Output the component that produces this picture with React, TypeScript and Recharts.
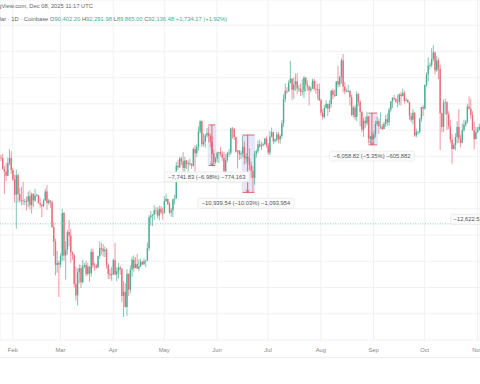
import React from "react";
import {
  ComposedChart,
  Bar,
  XAxis,
  YAxis,
  CartesianGrid,
  ReferenceLine,
  ReferenceArea,
  ReferenceDot,
} from "recharts";

// daily BTC/USD candles, Jan 25 .. Nov 2 2025, in thousands of USD
const opens = [
  104.8, 104.7, 102.6, 102.1, 101.3, 103.7, 104.7,
  // Feb
  102.4, 100.6, 97.7, 101.4, 97.8, 96.6, 96.6, 96.5, 96.5, 96.4,
  97.4, 95.7, 97.8, 96.6, 97.5, 97.6, 96.1, 95.8, 95.5, 96.6,
  98.3, 96.1, 96.6, 96.3, 91.5, 88.7, 84.3, 84.7,
  // Mar
  84.4, 86.0, 94.2, 86.1, 87.2, 90.6, 89.9, 86.7, 86.2, 80.7,
  78.5, 82.9, 83.7, 81.0, 84.0, 84.3, 82.6, 84.0, 82.7, 86.8,
  84.2, 84.1, 83.8, 86.0, 87.5, 87.4, 86.9, 87.2, 84.3, 82.6,
  82.4,
  // Apr
  82.5, 85.2, 82.5, 83.1, 83.8, 83.5, 78.4, 79.2, 76.3, 82.6,
  79.6, 83.4, 85.3, 83.7, 84.5, 83.6, 84.0, 84.9, 84.4, 85.0,
  85.1, 87.5, 93.4, 93.7, 93.9, 94.7, 94.6, 93.7, 95.0, 94.3,
  // May
  94.2, 96.5, 96.9, 95.9, 94.3, 94.7, 96.8, 97.0, 103.2, 102.9,
  104.6, 104.1, 102.8, 104.2, 103.5, 103.7, 103.5, 103.2, 106.4, 105.6,
  106.8, 109.7, 111.7, 107.3, 107.8, 109.0, 109.4, 108.9, 107.8, 105.6,
  103.9,
  // Jun
  104.6, 105.7, 105.8, 105.4, 104.7, 101.6, 104.3, 105.6, 105.7, 110.3,
  110.2, 108.7, 105.9, 106.1, 105.4, 105.6, 106.8, 104.6, 104.9, 104.6,
  103.3, 102.2, 100.9, 105.5, 106.0, 107.3, 106.9, 107.1, 107.3, 108.4,
  // Jul
  107.1, 105.7, 108.8, 109.6, 107.9, 108.2, 109.2, 108.2, 108.9, 111.3,
  115.9, 117.5, 117.4, 119.0, 119.8, 117.7, 118.7, 119.3, 117.9, 117.9,
  117.3, 117.4, 120.0, 118.7, 118.3, 117.6, 117.9, 119.4, 117.9, 117.8,
  117.8,
  // Aug
  115.7, 113.3, 112.5, 114.2, 115.0, 114.1, 115.0, 117.5, 116.7, 116.5,
  119.3, 118.7, 120.1, 123.3, 118.3, 117.4, 117.4, 117.5, 116.3, 112.9,
  114.3, 112.5, 116.9, 115.4, 113.5, 110.1, 111.8, 111.3, 112.6, 108.4,
  108.8,
  // Sep
  108.3, 109.2, 111.2, 111.7, 110.7, 110.7, 110.2, 111.2, 112.1, 111.5,
  113.9, 115.5, 116.1, 115.9, 115.4, 115.4, 116.8, 116.5, 117.1, 115.6,
  115.7, 115.3, 112.7, 112.0, 113.3, 109.0, 109.7, 109.7, 112.1, 114.4,
  // Oct
  114.1, 118.6, 120.6, 122.3, 122.4, 123.5, 124.8, 121.4, 123.3, 121.7,
  113.2, 110.6, 115.2, 115.3, 113.0, 110.7, 108.2, 106.4, 107.2, 108.7,
  110.6, 108.4, 107.6, 110.0, 111.0, 111.6, 114.5, 114.1, 112.9, 110.0,
  108.3,
  // Nov
  109.6, 110.1,
];

const highs = [
  105.3, 105.5, 103.2, 103.8, 104.8, 106.4, 106.0,
  102.8, 101.5, 102.5, 101.7, 99.0, 99.2, 100.1, 96.9, 97.3, 98.3,
  98.5, 98.1, 98.0, 98.8, 97.9, 97.7, 97.0, 96.0, 96.9, 98.8,
  99.5, 96.9, 96.6, 96.5, 92.5, 89.3, 87.0, 85.1,
  86.5, 95.0, 94.4, 88.9, 91.0, 92.8, 91.2, 86.9, 86.5, 84.0,
  83.6, 84.4, 84.3, 85.3, 84.7, 85.1, 84.7, 84.0, 87.4, 87.4,
  84.7, 84.5, 86.1, 88.8, 88.5, 88.3, 87.8, 87.5, 84.6, 83.5,
  83.9,
  85.5, 88.5, 83.9, 84.7, 84.2, 83.8, 81.2, 80.8, 83.5, 82.7,
  84.2, 85.9, 86.1, 85.8, 86.4, 85.4, 85.5, 85.1, 85.6, 85.3,
  88.6, 93.8, 94.6, 94.0, 95.7, 95.3, 95.3, 95.6, 95.5, 95.2,
  97.4, 97.9, 96.9, 96.3, 95.2, 96.9, 97.7, 103.9, 104.3, 104.9,
  104.9, 105.8, 104.9, 104.3, 104.2, 104.6, 103.7, 106.7, 107.1, 107.3,
  110.7, 111.9, 111.8, 109.4, 109.3, 110.4, 110.7, 109.3, 108.9, 106.3,
  104.9,
  105.9, 105.9, 106.8, 106.0, 105.9, 105.4, 105.9, 106.4, 110.5, 110.6,
  110.4, 108.8, 106.2, 106.2, 106.1, 108.9, 107.8, 105.6, 105.0, 106.5,
  104.0, 103.1, 106.0, 106.3, 108.0, 108.2, 107.8, 107.6, 108.5, 108.8,
  107.5, 109.8, 110.5, 109.7, 108.4, 109.7, 109.7, 109.2, 111.9, 116.8,
  118.9, 118.2, 119.5, 123.2, 119.9, 120.0, 120.8, 120.9, 118.6, 118.9,
  119.7, 120.3, 120.1, 119.5, 118.5, 118.3, 119.8, 119.8, 119.3, 118.8,
  118.9,
  116.0, 114.0, 114.8, 115.7, 115.1, 115.7, 117.7, 117.9, 117.7, 119.3,
  122.3, 120.3, 123.7, 124.5, 119.2, 117.9, 118.6, 117.6, 116.8, 114.6,
  114.8, 117.4, 117.0, 115.7, 113.6, 112.4, 112.6, 113.5, 112.7, 108.9,
  109.5,
  109.9, 111.8, 112.6, 112.2, 113.4, 111.2, 111.6, 112.9, 113.2, 114.3,
  115.5, 116.3, 116.7, 116.1, 116.8, 117.0, 117.3, 117.9, 117.5, 116.2,
  115.9, 115.4, 113.3, 114.0, 113.5, 110.3, 109.8, 112.4, 114.4, 114.8,
  118.7, 121.0, 123.9, 122.9, 125.6, 126.2, 125.0, 124.2, 123.8, 122.5,
  113.4, 115.8, 116.0, 115.5, 113.6, 111.9, 109.2, 107.5, 109.4, 111.7,
  114.0, 109.1, 111.3, 112.0, 111.9, 115.0, 116.4, 116.0, 113.6, 111.6,
  110.6,
  110.6, 111.2,
];

const lows = [
  104.1, 102.5, 97.8, 100.3, 101.3, 103.3, 101.6,
  100.3, 96.2, 91.2, 96.2, 96.2, 95.7, 95.7, 95.7, 94.7, 95.3,
  94.9, 94.1, 95.3, 96.3, 97.3, 96.0, 95.2, 93.4, 95.3, 96.5,
  94.8, 95.8, 95.2, 91.4, 86.0, 82.3, 82.8, 78.2,
  83.8, 85.1, 85.1, 81.5, 86.3, 87.8, 84.7, 85.3, 80.0, 77.5,
  76.6, 80.8, 79.9, 80.8, 83.7, 82.1, 82.3, 81.1, 82.1, 83.7,
  83.2, 83.6, 83.8, 85.5, 86.3, 85.9, 85.8, 83.6, 81.6, 81.6,
  81.3,
  82.4, 82.3, 81.2, 81.7, 82.4, 77.2, 74.4, 76.2, 74.6, 78.4,
  78.9, 82.0, 83.0, 83.7, 83.6, 83.1, 83.9, 84.3, 84.4, 83.9,
  85.1, 87.0, 91.8, 91.7, 92.9, 93.9, 93.2, 92.8, 93.9, 92.9,
  94.1, 96.3, 95.7, 94.0, 93.5, 93.4, 95.8, 96.9, 102.4, 102.8,
  103.4, 100.8, 101.5, 102.6, 101.4, 103.2, 102.6, 103.1, 102.0, 104.9,
  106.1, 109.3, 106.8, 106.9, 106.6, 108.6, 107.6, 106.7, 105.3, 103.1,
  103.6,
  103.9, 103.7, 105.0, 104.1, 100.4, 101.1, 103.9, 104.9, 105.3, 108.4,
  108.1, 105.7, 102.7, 104.3, 104.5, 104.9, 103.4, 103.6, 103.9, 102.4,
  100.9, 98.2, 99.6, 104.7, 105.6, 106.6, 106.2, 106.9, 107.2, 106.7,
  105.3, 105.2, 108.6, 107.3, 107.6, 107.8, 107.5, 107.4, 108.4, 110.6,
  115.3, 116.9, 117.3, 118.9, 115.7, 116.0, 117.5, 116.9, 117.3, 116.5,
  116.6, 116.1, 117.3, 117.5, 114.7, 117.2, 117.8, 117.5, 116.9, 115.8,
  115.5,
  112.7, 112.0, 112.2, 114.1, 112.7, 113.4, 114.3, 115.9, 116.3, 116.5,
  118.1, 118.2, 118.9, 117.2, 116.8, 117.2, 117.2, 114.7, 112.7, 112.4,
  112.0, 111.7, 114.6, 110.7, 109.6, 108.7, 110.4, 110.9, 107.5, 107.5,
  108.1,
  107.3, 108.6, 110.8, 109.3, 110.2, 110.0, 110.2, 110.6, 110.8, 110.9,
  113.4, 114.2, 115.7, 115.2, 114.4, 114.8, 114.7, 116.4, 115.1, 115.5,
  115.2, 111.9, 111.5, 111.1, 108.7, 108.6, 109.1, 109.3, 111.6, 112.7,
  113.9, 118.3, 119.3, 121.6, 122.0, 123.1, 120.6, 121.1, 119.7, 106.2,
  109.6, 109.7, 113.0, 110.0, 110.2, 107.5, 103.5, 106.3, 106.1, 107.5,
  107.5, 106.7, 107.5, 109.7, 110.6, 111.3, 113.9, 112.2, 109.9, 106.3,
  108.2,
  109.5, 109.9,
];

const closes = [
  104.7, 102.6, 102.1, 101.3, 103.7, 104.7, 102.4,
  100.6, 97.7, 101.4, 97.8, 96.6, 96.6, 96.5, 96.5, 96.4, 97.4,
  95.7, 97.8, 96.6, 97.5, 97.6, 96.1, 95.8, 95.5, 96.6, 98.3,
  96.1, 96.6, 96.3, 91.5, 88.7, 84.3, 84.7, 84.4,
  86.0, 94.2, 86.1, 87.2, 90.6, 89.9, 86.7, 86.2, 80.7, 78.5,
  82.9, 83.7, 81.0, 84.0, 84.3, 82.6, 84.0, 82.7, 86.8, 84.2,
  84.1, 83.8, 86.0, 87.5, 87.4, 86.9, 87.2, 84.3, 82.6, 82.4,
  82.5,
  85.2, 82.5, 83.1, 83.8, 83.5, 78.4, 79.2, 76.3, 82.6, 79.6,
  83.4, 85.3, 83.7, 84.5, 83.6, 84.0, 84.9, 84.4, 85.0, 85.1,
  87.5, 93.4, 93.7, 93.9, 94.7, 94.6, 93.7, 95.0, 94.3, 94.2,
  96.5, 96.9, 95.9, 94.3, 94.7, 96.8, 97.0, 103.2, 102.9, 104.6,
  104.1, 102.8, 104.2, 103.5, 103.7, 103.5, 103.2, 106.4, 105.6, 106.8,
  109.7, 111.7, 107.3, 107.8, 109.0, 109.4, 108.9, 107.8, 105.6, 103.9,
  104.6,
  105.7, 105.8, 105.4, 104.7, 101.6, 104.3, 105.6, 105.7, 110.3, 110.2,
  108.7, 105.9, 106.1, 105.4, 105.6, 106.8, 104.6, 104.9, 104.6, 103.3,
  102.2, 100.9, 105.5, 106.0, 107.3, 106.9, 107.1, 107.3, 108.4, 107.1,
  105.7, 108.8, 109.6, 107.9, 108.2, 109.2, 108.2, 108.9, 111.3, 115.9,
  117.5, 117.4, 119.0, 119.8, 117.7, 118.7, 119.3, 117.9, 117.9, 117.3,
  117.4, 120.0, 118.7, 118.3, 117.6, 117.9, 119.4, 117.9, 117.8, 117.8,
  115.7,
  113.3, 112.5, 114.2, 115.0, 114.1, 115.0, 117.5, 116.7, 116.5, 119.3,
  118.7, 120.1, 123.3, 118.3, 117.4, 117.4, 117.5, 116.3, 112.9, 114.3,
  112.5, 116.9, 115.4, 113.5, 110.1, 111.8, 111.3, 112.6, 108.4, 108.8,
  108.3,
  109.2, 111.2, 111.7, 110.7, 110.7, 110.2, 111.2, 112.1, 111.5, 113.9,
  115.5, 116.1, 115.9, 115.4, 115.4, 116.8, 116.5, 117.1, 115.6, 115.7,
  115.3, 112.7, 112.0, 113.3, 109.0, 109.7, 109.7, 112.1, 114.4, 114.1,
  118.6, 120.6, 122.3, 122.4, 123.5, 124.8, 121.4, 123.3, 121.7, 113.2,
  110.6, 115.2, 115.3, 113.0, 110.7, 108.2, 106.4, 107.2, 108.7, 110.6,
  108.4, 107.6, 110.0, 111.0, 111.6, 114.5, 114.1, 112.9, 110.0, 108.3,
  109.6,
  110.1, 110.6,
];

const monthTicks = [
  "2025-02-01", "2025-03-01", "2025-04-01", "2025-05-01", "2025-06-01",
  "2025-07-01", "2025-08-01", "2025-09-01", "2025-10-01", "2025-11-01",
];
const monthLabels = ["Feb", "Mar", "Apr", "May", "Jun", "Jul", "Aug", "Sep", "Oct", "Nov"];
const priceTicks = [75, 80, 85, 90, 95, 100, 105, 110, 115, 120, 125, 130];
const lastPrice = 92.136;

const START = Date.UTC(2025, 0, 25);
const dates = closes.map((_, i) => new Date(START + i * 86400000).toISOString().slice(0, 10));

const data = dates.map((date, i) => ({
  date,
  open: opens[i],
  high: highs[i],
  low: lows[i],
  close: closes[i],
  range: [lows[i], highs[i]],
}));

// price range measurements drawn on the chart
const measures = [
  { from: "2025-05-27", to: "2025-05-31", mid: "2025-05-29", l: "2025-05-28", r: "2025-05-30", top: 110.99, bottom: 103.25 },
  { from: "2025-06-16", to: "2025-06-23", mid: "2025-06-19", l: "2025-06-18", r: "2025-06-20", top: 109.07, bottom: 98.13 },
  { from: "2025-08-29", to: "2025-09-03", mid: "2025-08-31", l: "2025-08-30", r: "2025-09-01", top: 113.25, bottom: 107.19 },
];
const measureLabels = [
  { date: "2025-05-26", price: 101.1, text: "\u22127,741.83 (\u22126.98%) \u2212774,163", anchor: "middle" },
  { date: "2025-06-18", price: 96.05, text: "\u221210,939.54 (\u221210.03%) \u22121,093,954", anchor: "middle" },
  { date: "2025-08-31", price: 105.06, text: "\u22126,058.82 (\u22125.35%) \u2212605,882", anchor: "middle" },
  { date: "2025-10-18", price: 93.0, text: "\u221212,622.52", anchor: "start" },
];

const GREEN = "#4cae97";
const RED = "#ea6a78";
const ARROW = "#e2505f";
const FONT = "'Liberation Sans', Arial, sans-serif";

function Candle(props: any) {
  const { x, y, width, height, payload } = props;
  if (!payload) return null;
  const { open, close, high, low } = payload;
  const top = height < 0 ? y + height : y;
  const h = Math.abs(height);
  const ppu = high > low ? h / (high - low) : 0;
  const color = close >= open ? GREEN : RED;
  const bodyTop = top + (high - Math.max(open, close)) * ppu;
  const bodyH = Math.max(0.8, Math.abs(open - close) * ppu);
  const cx = x + width / 2;
  return (
    <g>
      <line x1={cx} x2={cx} y1={top} y2={top + h} stroke={color} strokeWidth={0.7} />
      <rect x={cx - 0.7} y={bodyTop} width={1.4} height={bodyH} fill={color} />
    </g>
  );
}

function LabelBox(props: any) {
  const { cx, cy, text, anchor } = props;
  const w = text.length * 2.85 + 8;
  const left = anchor === "start" ? cx - 3 : cx - w / 2;
  return (
    <g>
      <rect x={left} y={cy - 5} width={w} height={10} rx={1.5} fill="#fbfbfb" stroke="#e6e6e6" strokeWidth={0.6} />
      <text x={cx} y={cy + 2} textAnchor={anchor} fontSize={5.8} fontFamily={FONT} fill="#555">
        {text}
      </text>
    </g>
  );
}

export default function App() {
  const teal = "#3fae94";
  return (
    <div
      style={{
        position: "fixed",
        left: 0,
        top: 0,
        width: 480,
        height: 384,
        overflow: "hidden",
        background: "#fff",
        fontFamily: FONT,
      }}
    >
      <ComposedChart
        width={480}
        height={384}
        data={data}
        margin={{ top: 0, right: 0, bottom: 0, left: 0 }}
        barCategoryGap={0}
        barGap={0}
      >
        <CartesianGrid stroke="#f1f1f1" strokeWidth={1} />
        <XAxis
          dataKey="date"
          ticks={monthTicks}
          interval={0}
          tickFormatter={(d: string) => monthLabels[monthTicks.indexOf(d)]}
          axisLine={false}
          tickLine={false}
          tickSize={0}
          tickMargin={8}
          height={44}
          tick={{ fontSize: 5.8, fill: "#888", fontFamily: FONT }}
        />
        <YAxis hide domain={[70, 134.8]} ticks={priceTicks} />
        <ReferenceLine y={lastPrice} stroke="#8fcfc0" strokeDasharray="1 1.5" strokeWidth={1} />
        {measures.map((m, i) => (
          <ReferenceArea
            key={"a" + i}
            x1={m.from}
            x2={m.to}
            y1={m.bottom}
            y2={m.top}
            fill="#c5c9ef"
            fillOpacity={0.45}
            stroke="none"
          />
        ))}
        <Bar dataKey="range" shape={<Candle />} isAnimationActive={false} />
        {measures.map((m, i) => (
          <ReferenceLine
            key={"v" + i}
            segment={[
              { x: m.mid, y: m.top },
              { x: m.mid, y: m.bottom },
            ]}
            stroke={ARROW}
            strokeWidth={0.9}
          />
        ))}
        {measures.map((m, i) => (
          <ReferenceLine
            key={"t" + i}
            segment={[
              { x: m.from, y: m.top },
              { x: m.to, y: m.top },
            ]}
            stroke={ARROW}
            strokeWidth={0.9}
          />
        ))}
        {measures.map((m, i) => (
          <ReferenceLine
            key={"b" + i}
            segment={[
              { x: m.from, y: m.bottom },
              { x: m.to, y: m.bottom },
            ]}
            stroke={ARROW}
            strokeWidth={0.9}
          />
        ))}
        {measures.map((m, i) => (
          <ReferenceLine
            key={"hl" + i}
            segment={[
              { x: m.l, y: m.bottom + 0.5 },
              { x: m.mid, y: m.bottom },
            ]}
            stroke={ARROW}
            strokeWidth={0.8}
          />
        ))}
        {measures.map((m, i) => (
          <ReferenceLine
            key={"hr" + i}
            segment={[
              { x: m.r, y: m.bottom + 0.5 },
              { x: m.mid, y: m.bottom },
            ]}
            stroke={ARROW}
            strokeWidth={0.8}
          />
        ))}
        {measureLabels.map((l, i) => (
          <ReferenceDot
            key={"l" + i}
            x={l.date}
            y={l.price}
            ifOverflow="visible"
            shape={(p: any) => <LabelBox cx={p.cx} cy={p.cy} text={l.text} anchor={l.anchor} />}
          />
        ))}
      </ComposedChart>

      <div style={{ position: "absolute", left: 0, top: 357, width: 480, height: 1, background: "#eeeeee" }} />

      <div
        style={{
          position: "absolute",
          right: 480 - 93,
          top: 2,
          fontSize: 5.8,
          color: "#666",
          whiteSpace: "nowrap",
          lineHeight: "8px",
        }}
      >
        TradingView.com, Dec 08, 2025 11:17 UTC
      </div>
      <div
        style={{
          position: "absolute",
          right: 480 - 227,
          top: 15,
          fontSize: 5.8,
          color: "#666",
          whiteSpace: "nowrap",
          lineHeight: "8px",
        }}
      >
        Bitcoin / U.S. Dollar · 1D · Coinbase O<span style={{ color: teal }}>90,402.20</span> H
        <span style={{ color: teal }}>92,291.98</span> L<span style={{ color: teal }}>89,865.00</span> C
        <span style={{ color: teal }}>92,136.48</span> <span style={{ color: teal }}>+1,734.17 (+1.92%)</span>
      </div>
    </div>
  );
}
